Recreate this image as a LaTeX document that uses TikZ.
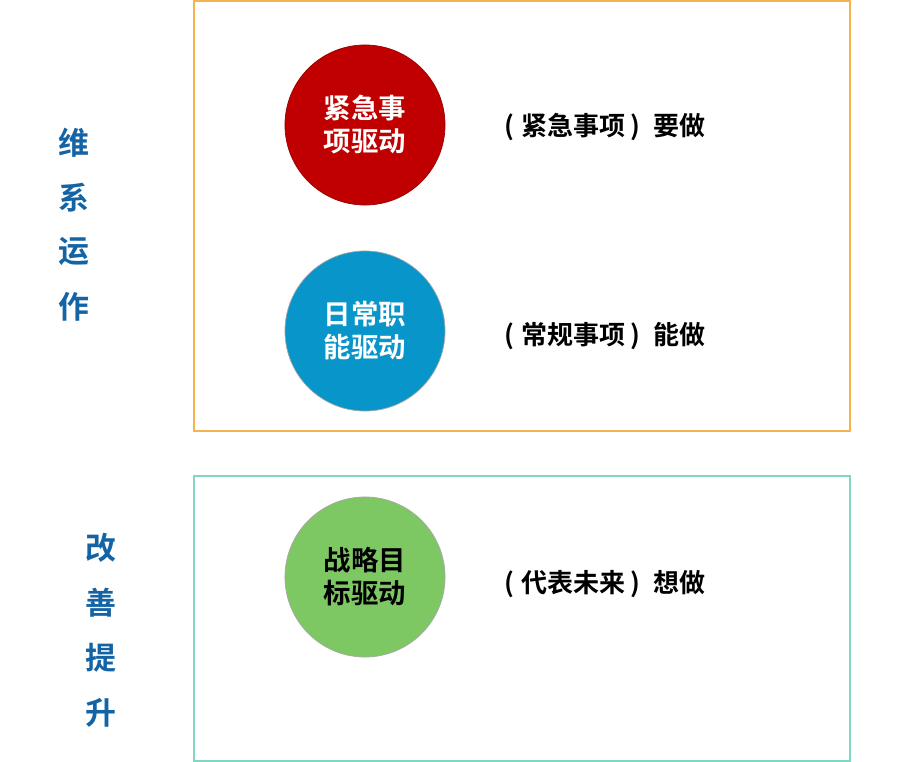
\documentclass[tikz,border=0pt]{standalone}
\usepackage{fontspec}
\setmainfont{Noto Sans CJK SC}[BoldFont={* Bold}]
\usepackage{tikz}
\usetikzlibrary{positioning}

\newcommand{\paren}[2]{(\hspace{0.25em}#1\hspace{0.2em})\hspace{0.5em}#2}

\begin{document}
\begin{tikzpicture}[x=0.025cm, y=-0.025cm]
% Define colors
\definecolor{urgentcolor}{RGB}{192, 0, 0}
\definecolor{routinecolor}{RGB}{8, 150, 202}
\definecolor{goalcolor}{RGB}{126, 200, 100}
\definecolor{runframe}{RGB}{245, 180, 80}
\definecolor{upframe}{RGB}{130, 215, 195}
\definecolor{sidecolor}{RGB}{20, 100, 165}

\tikzset{
  driver/.style={circle, minimum size=4cm, inner sep=0pt, align=center,
    font=\fontsize{19.5}{23.5}\selectfont\bfseries, line width=0.5pt},
  note/.style={font=\fontsize{18.5}{22}\selectfont\bfseries},
  side/.style={font=\fontsize{22}{26}\selectfont\bfseries, text=sidecolor}
}

\useasboundingbox (0,0) rectangle (904,762);

% Frames
\draw[runframe, line width=0.8pt] (194,1) rectangle (850,431);
\draw[upframe, line width=0.8pt] (194,476) rectangle (850,761);

% Circles
\node[driver, fill=urgentcolor, draw=urgentcolor!80!black, text=white] (urgent) at (365,125) {紧急事\\项驱动};
\node[driver, fill=routinecolor, draw=gray!70, text=white] (routine) at (365,331) {日常职\\能驱动};
\node[driver, fill=goalcolor, draw=gray!70, text=black] (goal) at (365,577) {战略目\\标驱动};

% Notes
\node[note] (urgentnote) at (605,127) {\paren{紧急事项}{要做}};
\node[note] (routinenote) at (605,336) {\paren{常规事项}{能做}};
\node[note] (goalnote) at (605,584) {\paren{代表未来}{想做}};

% Side labels
\foreach \ch [count=\i] in {维,系,运,作} {
  \node[side] (run\i) at (74,{143+54.5*(\i-1)}) {\ch};
}
\foreach \ch [count=\i] in {改,善,提,升} {
  \node[side] (up\i) at (101,{548+55*(\i-1)}) {\ch};
}
\end{tikzpicture}
\end{document}
